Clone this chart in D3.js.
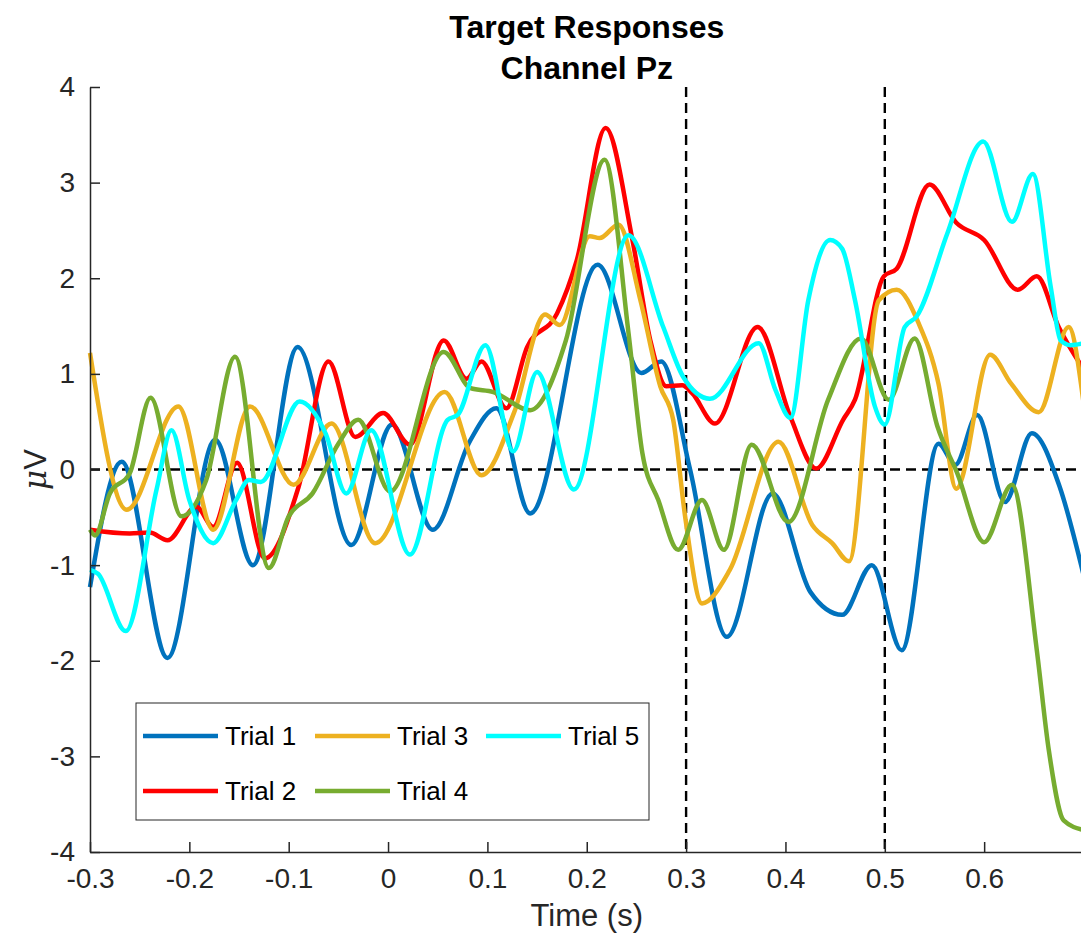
<!DOCTYPE html>
<html>
<head>
<meta charset="utf-8">
<script src="https://cdn.jsdelivr.net/npm/d3@7"></script>
<style>
  body { margin: 0; background: #fff; }
  svg { display: block; font-family: "Liberation Sans", Arial, sans-serif; }
</style>
</head>
<body>
<script>
// data (time in s, amplitude in uV)
var trialNames = ["Trial 1", "Trial 2", "Trial 3", "Trial 4", "Trial 5"];
var trialColors = ["#0072BD", "#FF0000", "#EDB120", "#77AC30", "#00FFFF"];

var t1 = [-0.3, -0.268, -0.222, -0.174, -0.136, -0.091, -0.037, 0.004, 0.045, 0.082, 0.109, 0.143, 0.211, 0.255, 0.275, 0.304, 0.341, 0.387, 0.425, 0.457, 0.487, 0.517, 0.554, 0.571, 0.593, 0.621, 0.648, 0.676, 0.7];
var v1 = [-1.23, 0.08, -1.97, 0.31, -1.0, 1.28, -0.79, 0.47, -0.63, 0.29, 0.64, -0.46, 2.14, 1.01, 1.13, 0.0, -1.75, -0.25, -1.28, -1.52, -1.0, -1.89, 0.27, 0.05, 0.57, -0.34, 0.38, -0.18, -1.1];

var t2 = [-0.3, -0.26, -0.24, -0.222, -0.193, -0.176, -0.152, -0.124, -0.09, -0.06, -0.033, -0.005, 0.022, 0.056, 0.079, 0.094, 0.119, 0.14, 0.17, 0.19, 0.219, 0.246, 0.264, 0.28, 0.296, 0.306, 0.329, 0.372, 0.405, 0.431, 0.458, 0.47, 0.499, 0.512, 0.545, 0.572, 0.6, 0.634, 0.653, 0.675, 0.7];
var v2 = [-0.63, -0.67, -0.66, -0.74, -0.39, -0.6, 0.07, -0.93, -0.18, 1.13, 0.34, 0.59, 0.26, 1.35, 0.95, 1.13, 0.64, 1.28, 1.63, 2.19, 3.57, 2.4, 1.35, 0.87, 0.88, 0.8, 0.48, 1.49, 0.55, 0.01, 0.52, 0.73, 2.02, 2.1, 2.98, 2.58, 2.4, 1.88, 2.02, 1.49, 1.05];

var t3 = [-0.3, -0.263, -0.211, -0.176, -0.139, -0.095, -0.057, -0.013, 0.057, 0.094, 0.127, 0.158, 0.173, 0.203, 0.213, 0.232, 0.254, 0.274, 0.287, 0.299, 0.316, 0.344, 0.393, 0.427, 0.447, 0.464, 0.494, 0.512, 0.534, 0.554, 0.572, 0.606, 0.627, 0.655, 0.685, 0.7];
var v3 = [1.22, -0.42, 0.66, -0.63, 0.66, -0.16, 0.48, -0.77, 0.81, -0.06, 0.6, 1.62, 1.51, 2.44, 2.42, 2.56, 1.77, 0.87, 0.52, -0.49, -1.4, -1.05, 0.29, -0.58, -0.77, -0.96, 1.77, 1.88, 1.53, 0.9, -0.2, 1.2, 0.9, 0.6, 1.49, 0.7];

var t4 = [-0.3, -0.295, -0.28, -0.26, -0.239, -0.208, -0.183, -0.154, -0.12, -0.1, -0.076, -0.05, -0.03, 0.002, 0.056, 0.083, 0.106, 0.143, 0.179, 0.218, 0.242, 0.256, 0.272, 0.292, 0.316, 0.338, 0.366, 0.403, 0.443, 0.476, 0.504, 0.53, 0.553, 0.573, 0.6, 0.628, 0.653, 0.665, 0.68, 0.7];
var v4 = [-0.63, -0.69, -0.25, -0.04, 0.75, -0.49, -0.11, 1.18, -1.03, -0.49, -0.25, 0.27, 0.52, -0.23, 1.23, 0.85, 0.81, 0.62, 1.35, 3.24, 1.43, 0.17, -0.32, -0.84, -0.32, -0.84, 0.26, -0.55, 0.73, 1.37, 0.73, 1.37, 0.45, -0.04, -0.76, -0.16, -1.89, -2.93, -3.67, -3.77];

var t5 = [-0.3, -0.292, -0.264, -0.233, -0.218, -0.2, -0.176, -0.153, -0.14, -0.128, -0.089, -0.063, -0.042, -0.017, 0.022, 0.06, 0.07, 0.098, 0.126, 0.15, 0.187, 0.242, 0.277, 0.297, 0.324, 0.373, 0.39, 0.405, 0.423, 0.445, 0.457, 0.47, 0.49, 0.5, 0.52, 0.532, 0.563, 0.599, 0.628, 0.649, 0.667, 0.677, 0.687, 0.7];
var v5 = [-1.05, -1.09, -1.69, -0.21, 0.41, -0.32, -0.77, -0.32, -0.11, -0.13, 0.71, 0.38, -0.25, 0.41, -0.89, 0.52, 0.57, 1.3, 0.19, 1.02, -0.21, 2.45, 1.49, 0.97, 0.74, 1.32, 0.83, 0.54, 1.77, 2.4, 2.31, 1.77, 0.66, 0.47, 1.49, 1.6, 2.47, 3.43, 2.59, 3.09, 1.91, 1.35, 1.3, 1.32];

var xTicks = [-0.3, -0.2, -0.1, 0, 0.1, 0.2, 0.3, 0.4, 0.5, 0.6];
var yTicks = [-4, -3, -2, -1, 0, 1, 2, 3, 4];
var markerTimes = [0.3, 0.5];

var width = 1081, height = 943;
var margin = {top: 87, left: 90};
var plotW = 993.5, plotH = 765;

var svg = d3.select("body").append("svg")
  .attr("width", width)
  .attr("height", height);

var x = d3.scaleLinear().domain([-0.3, 0.7]).range([margin.left, margin.left + plotW]);
var y = d3.scaleLinear().domain([-4, 4]).range([margin.top + plotH, margin.top]);

var axisColor = "#262626";

// dashed reference lines
svg.append("line")
  .attr("x1", x(-0.3)).attr("x2", x(0.7))
  .attr("y1", y(0)).attr("y2", y(0))
  .attr("stroke", "#000").attr("stroke-width", 2.4)
  .attr("stroke-dasharray", "10,6");

markerTimes.forEach(function(m) {
  svg.append("line")
    .attr("x1", x(m)).attr("x2", x(m))
    .attr("y1", y(4)).attr("y2", y(-4))
    .attr("stroke", "#000").attr("stroke-width", 2.4)
    .attr("stroke-dasharray", "10,6");
});

// traces
var series = [[t1, v1], [t2, v2], [t3, v3], [t4, v4], [t5, v5]];
var line = d3.line()
  .x(function(d) { return x(d[0]); })
  .y(function(d) { return y(d[1]); })
  .curve(d3.curveMonotoneX);

series.forEach(function(s, i) {
  var pts = s[0].map(function(t, j) { return [t, s[1][j]]; });
  svg.append("path")
    .datum(pts)
    .attr("d", line)
    .attr("fill", "none")
    .attr("stroke", trialColors[i])
    .attr("stroke-width", 4.5)
    .attr("stroke-linejoin", "round");
});

// axes (ticks inside, MATLAB style)
var xAxis = svg.append("g")
  .attr("transform", "translate(0," + y(-4) + ")")
  .call(d3.axisBottom(x).tickValues(xTicks).tickSizeInner(-10).tickSizeOuter(0).tickPadding(16)
    .tickFormat(function(d) { return String(+d.toFixed(1)); }));

var yAxis = svg.append("g")
  .attr("transform", "translate(" + x(-0.3) + ",0)")
  .call(d3.axisLeft(y).tickValues(yTicks).tickSizeInner(-10).tickSizeOuter(0).tickPadding(15)
    .tickFormat(function(d) { return String(d); }));

[xAxis, yAxis].forEach(function(g) {
  g.select(".domain").attr("stroke", axisColor).attr("stroke-width", 1.5);
  g.selectAll(".tick line").attr("stroke", axisColor).attr("stroke-width", 1.5);
  g.selectAll(".tick text")
    .attr("fill", axisColor)
    .style("font-size", "28px")
    .style("font-family", "Liberation Sans, Arial, sans-serif");
});
xAxis.selectAll(".tick text").attr("dy", "0.71em");

// labels
var midX = (x(-0.3) + x(0.7)) / 2;
svg.append("text")
  .attr("x", midX).attr("y", 926)
  .attr("text-anchor", "middle")
  .attr("fill", axisColor)
  .style("font-size", "31px")
  .text("Time (s)");

svg.append("text")
  .attr("transform", "translate(46," + y(0) + ") rotate(-90)")
  .attr("text-anchor", "middle")
  .attr("fill", axisColor)
  .style("font-size", "31px")
  .html("<tspan font-style='italic' font-family='DejaVu Serif, serif'>\u03bc</tspan><tspan>V</tspan>");

svg.append("text")
  .attr("x", midX).attr("y", 38)
  .attr("text-anchor", "middle")
  .style("font-size", "32px").style("font-weight", "bold")
  .text("Target Responses");
svg.append("text")
  .attr("x", midX).attr("y", 79)
  .attr("text-anchor", "middle")
  .style("font-size", "32px").style("font-weight", "bold")
  .text("Channel Pz");

// legend
var legend = svg.append("g");
legend.append("rect")
  .attr("x", 136).attr("y", 703)
  .attr("width", 513).attr("height", 117)
  .attr("fill", "#fff")
  .attr("stroke", axisColor).attr("stroke-width", 1);

var legCols = [143, 315, 486];
var legRows = [736, 791];
trialNames.forEach(function(name, i) {
  var col = Math.floor(i / 2), row = i % 2;
  var lx = legCols[col], ly = legRows[row];
  legend.append("line")
    .attr("x1", lx).attr("x2", lx + 75)
    .attr("y1", ly).attr("y2", ly)
    .attr("stroke", trialColors[i]).attr("stroke-width", 4.5);
  legend.append("text")
    .attr("x", lx + 82).attr("y", ly)
    .attr("dy", "0.35em")
    .attr("fill", "#000")
    .style("font-size", "26px")
    .text(name);
});
</script>
</body>
</html>
